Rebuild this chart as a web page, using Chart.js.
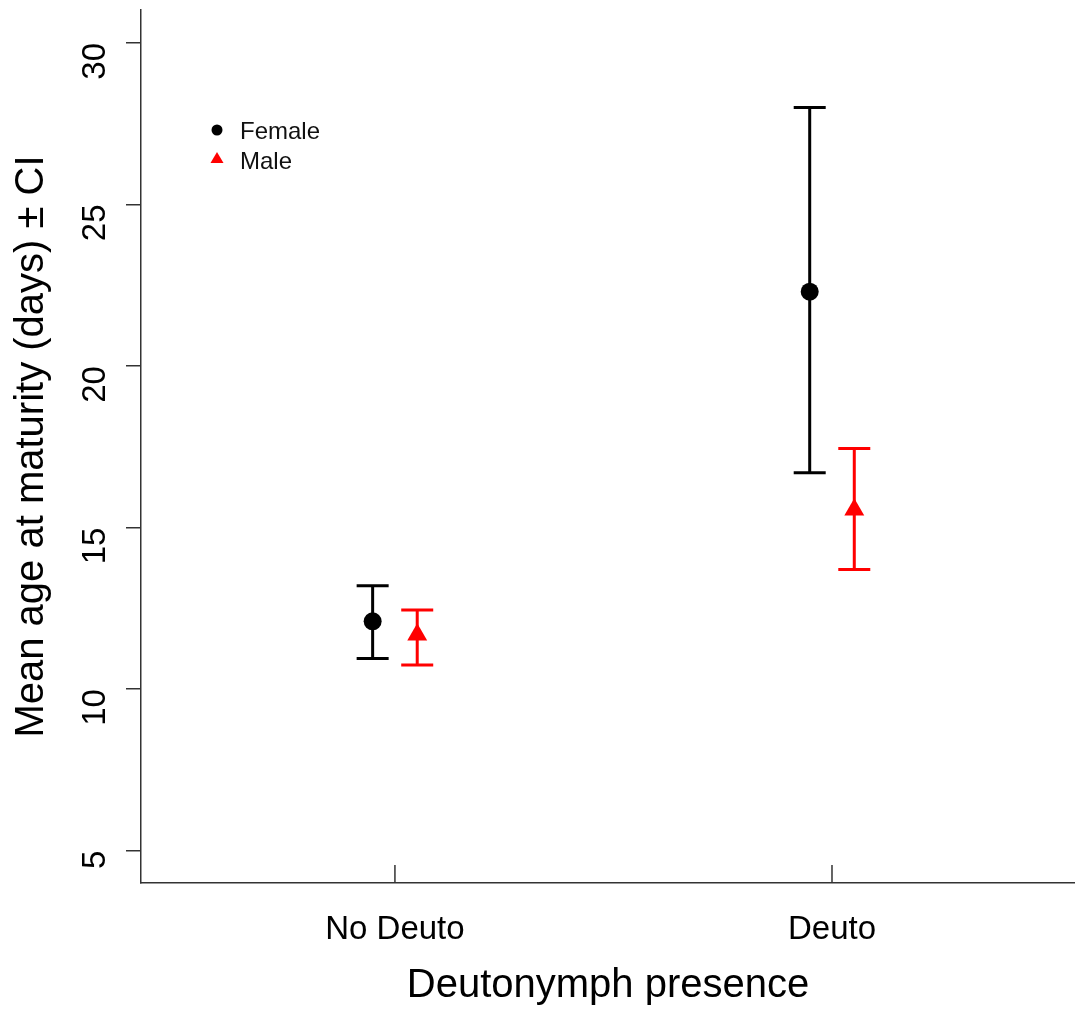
<!DOCTYPE html>
<html>
<head>
<meta charset="utf-8">
<script src="https://cdn.jsdelivr.net/npm/chart.js@4"></script>
<style>
  html, body { margin: 0; padding: 0; background: #fff; overflow: hidden; }
  #wrap { width: 1075px; height: 1012px; }
  canvas { display: block; }
</style>
</head>
<body>
<div id="wrap"><canvas id="ageChart"></canvas></div>
<script>
// data
const categories = ['No Deuto', 'Deuto'];
const femaleMean = [12.1, 22.3];
const femaleLow  = [10.95, 16.7];
const femaleHigh = [13.2, 28.0];
const maleMean   = [11.68, 15.55];
const maleLow    = [10.75, 13.7];
const maleHigh   = [12.45, 17.45];
const yTicks = [5, 10, 15, 20, 25, 30];

const dodge = 0.051;
const FONT = '"Liberation Sans", Arial, sans-serif';
const AXIS_COL = '#333';

function makePoints(means, lows, highs, shift) {
    return means.map((m, i) => ({ x: i + 1 + shift, y: m, lo: lows[i], hi: highs[i] }));
}

// error bars with caps
const errorBars = {
    id: 'errorBars',
    afterDatasetsDraw(chart) {
        const ctx = chart.ctx;
        const xs = chart.scales.x, ys = chart.scales.y;
        chart.data.datasets.forEach(ds => {
            ctx.save();
            ctx.strokeStyle = ds.borderColor;
            ctx.lineWidth = 3;
            ds.data.forEach(p => {
                const px = xs.getPixelForValue(p.x);
                const top = ys.getPixelForValue(p.hi);
                const bot = ys.getPixelForValue(p.lo);
                ctx.beginPath();
                ctx.moveTo(px, top); ctx.lineTo(px, bot);
                ctx.moveTo(px - 16, top); ctx.lineTo(px + 16, top);
                ctx.moveTo(px - 16, bot); ctx.lineTo(px + 16, bot);
                ctx.stroke();
            });
            ctx.restore();
        });
    }
};

// inward x ticks + legend inside plot
const extras = {
    id: 'extras',
    afterDraw(chart) {
        const ctx = chart.ctx;
        const area = chart.chartArea;
        const xs = chart.scales.x;
        ctx.save();
        ctx.strokeStyle = AXIS_COL;
        ctx.lineWidth = 1.5;
        categories.forEach((c, i) => {
            const px = xs.getPixelForValue(i + 1);
            ctx.beginPath();
            ctx.moveTo(px, area.bottom);
            ctx.lineTo(px, area.bottom - 18);
            ctx.stroke();
        });

        const lx = area.left + 76, ly = area.top + 121;
        ctx.font = '24px ' + FONT;
        ctx.textBaseline = 'middle';
        ctx.fillStyle = '#000';
        ctx.beginPath();
        ctx.arc(lx, ly - 1, 5.5, 0, Math.PI * 2);
        ctx.fill();
        ctx.fillStyle = '#111';
        ctx.fillText('Female', lx + 23, ly + 1);
        ctx.fillStyle = '#ff0000';
        ctx.beginPath();
        ctx.moveTo(lx, ly + 21);
        ctx.lineTo(lx + 6.5, ly + 32);
        ctx.lineTo(lx - 6.5, ly + 32);
        ctx.closePath();
        ctx.fill();
        ctx.fillStyle = '#111';
        ctx.fillText('Male', lx + 23, ly + 31);
        ctx.restore();
    }
};

const ctx = document.getElementById('ageChart').getContext('2d');
new Chart(ctx, {
    type: 'scatter',
    data: {
        datasets: [
            { label: 'Female', data: makePoints(femaleMean, femaleLow, femaleHigh, -dodge),
              pointStyle: 'circle', pointRadius: 9, backgroundColor: '#000', borderColor: '#000', borderWidth: 0 },
            { label: 'Male', data: makePoints(maleMean, maleLow, maleHigh, dodge),
              pointStyle: 'triangle', pointRadius: 11.5, backgroundColor: '#ff0000', borderColor: '#ff0000', borderWidth: 0 }
        ]
    },
    options: {
        responsive: true,
        maintainAspectRatio: false,
        animation: false,
        layout: { autoPadding: false, padding: { top: 10, right: 0, left: 0, bottom: 0 } },
        plugins: { legend: { display: false }, tooltip: { enabled: false } },
        scales: {
            x: {
                type: 'linear',
                min: 0.419,
                max: 2.556,
                afterBuildTicks: s => { s.ticks = categories.map((c, i) => ({ value: i + 1 })); },
                afterFit: s => { s.height = 129; s.paddingLeft = 0; s.paddingRight = 0; },
                ticks: {
                    callback: v => categories[v - 1],
                    color: '#000',
                    font: { family: FONT, size: 33 },
                    padding: 27,
                    maxRotation: 0, minRotation: 0
                },
                grid: { drawOnChartArea: false, drawTicks: false },
                border: { display: true, color: AXIS_COL, width: 1.5 },
                title: {
                    display: true, text: 'Deutonymph presence', color: '#000',
                    font: { family: FONT, size: 40 }, padding: { top: 0, bottom: 2 }
                }
            },
            y: {
                min: 4.0,
                max: 31.02,
                afterBuildTicks: s => { s.ticks = yTicks.map(v => ({ value: v })); },
                afterFit: s => { s.width = 141; s.paddingTop = 0; s.paddingBottom = 0; },
                ticks: {
                    color: '#000',
                    font: { family: FONT, size: 33 },
                    minRotation: 90, maxRotation: 90,
                    padding: 30
                },
                grid: { drawOnChartArea: false, drawTicks: true, tickLength: 15, color: AXIS_COL, lineWidth: 1.5 },
                border: { display: true, color: AXIS_COL, width: 1.5 },
                title: {
                    display: true, text: 'Mean age at maturity (days) ± CI', color: '#000',
                    font: { family: FONT, size: 40 }, padding: { top: 8, bottom: 0 }
                }
            }
        }
    },
    plugins: [errorBars, extras]
});
</script>
</body>
</html>
